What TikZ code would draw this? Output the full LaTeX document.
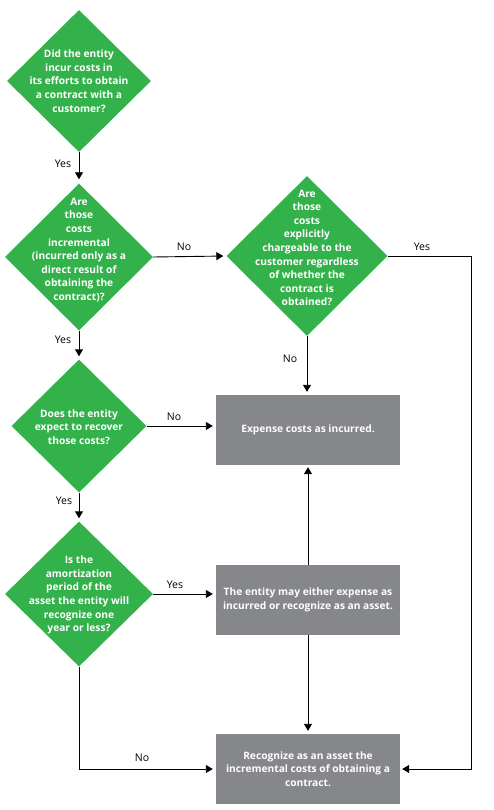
\documentclass[tikz,border=0pt]{standalone}
\usepackage{fontspec}
\setmainfont{Open Sans}
\usetikzlibrary{shapes.geometric,arrows.meta}
\definecolor{dgreen}{HTML}{33B14B}
\definecolor{bgray}{HTML}{86878B}
\begin{document}
\begin{tikzpicture}[x=1pt,y=-1pt,
  dia/.style={diamond, fill=dgreen, draw=none, inner sep=0pt},
  dtext/.style={text=white, font=\bfseries\fontsize{10.2}{13.6}\selectfont, align=center, inner sep=0pt},
  box/.style={fill=bgray, minimum width=184pt, minimum height=70pt, inner sep=0pt, text=white, font=\bfseries\fontsize{10.2}{13.6}\selectfont, align=center},
  lab/.style={font=\fontsize{10.5}{12}\selectfont, inner sep=0pt},
  arr/.style={-{Triangle[width=8pt,length=7pt]}, line width=0.9pt, shorten >=3pt}
]
\useasboundingbox (0,0) rectangle (494,810);

% diamonds
\node[dia, minimum width=144pt, minimum height=142pt] (d1) at (79,81) {};
\node[dia, minimum width=148pt, minimum height=147pt] (d2) at (79,257) {};
\node[dia, minimum width=161pt, minimum height=160pt] (d3) at (307,256) {};
\node[dia, minimum width=135pt, minimum height=133pt] (d4) at (79,426) {};
\node[dia, minimum width=148pt, minimum height=145pt] (d5) at (79,594) {};

\node[dtext] (t1) at (79,81) {Did the entity\\incur costs in\\its efforts to obtain\\a contract with a\\customer?};
\node[dtext] (t2) at (79,250) {Are\\those\\costs\\incremental\\(incurred only as a\\direct result of\\obtaining the\\contract)?};
\node[dtext] (t3) at (307,248) {Are\\those\\costs\\explicitly\\chargeable to the\\customer regardless\\of whether the\\contract is\\obtained?};
\node[dtext] (t4) at (79,427) {Does the entity\\expect to recover\\those costs?};
\node[dtext] (t5) at (79,595) {Is the\\amortization\\period of the\\asset the entity will\\recognize one\\year or less?};

% boxes
\node[box] (b1) at (308,430) {Expense costs as incurred.};
\node[box] (b2) at (308,600) {The entity may either expense as\\incurred or recognize as an asset.};
\node[box] (b3) at (308,769) {Recognize as an asset the\\incremental costs of obtaining a\\contract.};

% connectors
\draw[arr, shorten >=4pt] (d1.south) -- (d2.north);
\draw[arr] (d2.east) -- (d3.west);
\draw[arr] (d3.south) -- (d3.south |- b1.north);
\draw[arr] (d2.south) -- (d4.north);
\draw[arr] (d4.east) -- (d4.east -| b1.west);
\draw[arr, shorten >=2pt] (b2.north) -- (b1.south);
\draw[arr] (d4.south) -- (d5.north);
\draw[arr] (d5.east) -- (d5.east -| b2.west);
\draw[arr] (b2.south) -- (b3.north);
\draw[arr] (d5.south) |- (b3.west);
\coordinate (rc) at (471,256);
\draw[arr, shorten >=2pt] (d3.east) -- (rc) |- (b3.east);

% labels
\node[lab] (l1) at (63,164) {Yes};
\node[lab] (l2) at (184,247) {No};
\node[lab] (l3) at (63,340) {Yes};
\node[lab] (l4) at (422,247) {Yes};
\node[lab] (l5) at (290,359) {No};
\node[lab] (l6) at (174,417) {No};
\node[lab] (l7) at (64,501) {Yes};
\node[lab] (l8) at (175,585) {Yes};
\node[lab] (l9) at (142,758) {No};
\end{tikzpicture}
\end{document}
